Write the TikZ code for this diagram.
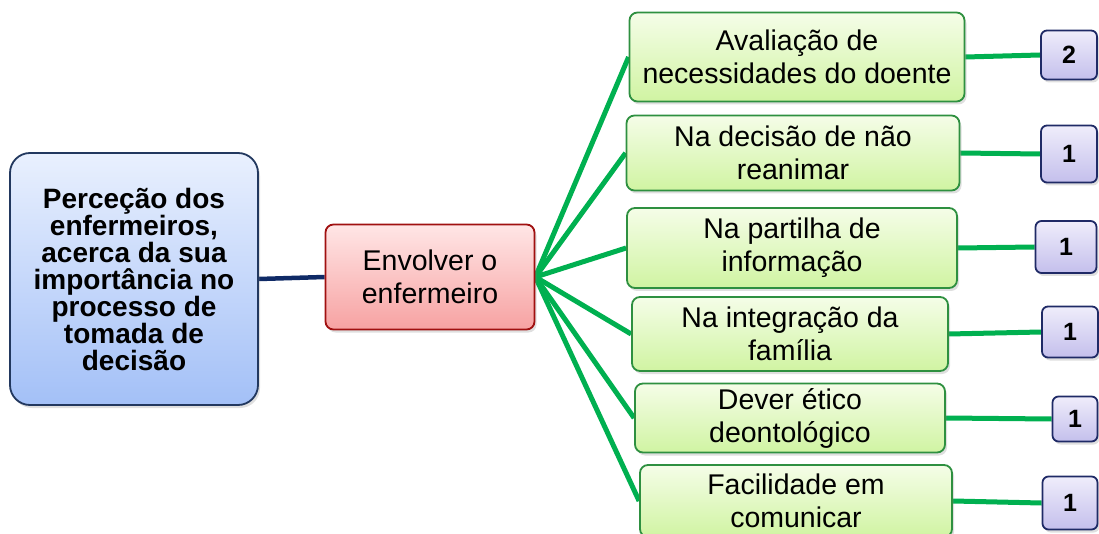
\documentclass[tikz,border=0pt]{standalone}
\usepackage{fontspec}
\setmainfont{Liberation Sans}
\usetikzlibrary{shadows,backgrounds}

\definecolor{linkgreen}{HTML}{00B050}
\definecolor{navyline}{HTML}{0F2A66}
\definecolor{roottop}{HTML}{E9F0FE}
\definecolor{rootbot}{HTML}{A3C0F7}
\definecolor{rootedge}{HTML}{22385F}
\definecolor{midtop}{HTML}{FFE6E6}
\definecolor{midbot}{HTML}{F7A2A2}
\definecolor{midedge}{HTML}{A01010}
\definecolor{itemtop}{HTML}{F5FDE8}
\definecolor{itembot}{HTML}{D0F4A2}
\definecolor{itemedge}{HTML}{2E9040}
\definecolor{counttop}{HTML}{EFEDFB}
\definecolor{countbot}{HTML}{C4BFEC}
\definecolor{countedge}{HTML}{1F2A66}

\begin{document}
\begin{tikzpicture}[x=1pt, y=-1pt,
    box/.style = {draw, rounded corners=8pt, line width=1.8pt, align=center, inner sep=0pt,
                  drop shadow={shadow xshift=2pt, shadow yshift=-3pt, opacity=0.25}},
    rootbox/.style = {box, rounded corners=20pt, draw=rootedge, top color=roottop, bottom color=rootbot,
                      font=\fontsize{28}{27}\selectfont\bfseries},
    midbox/.style = {box, draw=midedge, top color=midtop, bottom color=midbot,
                     font=\fontsize{28.5}{33}\selectfont},
    itembox/.style = {box, draw=itemedge, top color=itemtop, bottom color=itembot,
                      font=\fontsize{28.5}{33}\selectfont},
    countbox/.style = {box, rounded corners=6pt, draw=countedge, top color=counttop, bottom color=countbot,
                       font=\fontsize{25}{26}\selectfont\bfseries},
    link/.style = {draw=linkgreen, line width=5pt},
    rootlink/.style = {draw=navyline, line width=4.5pt}]

    \clip (0,0) rectangle (1099,534);

    % central idea and category
    \node[rootbox, minimum width=248pt, minimum height=252pt] (root) at (134,279)
        {Perceção dos\\enfermeiros,\\acerca da sua\\importância no\\processo de\\tomada de\\decisão};
    \node[midbox, minimum width=209pt, minimum height=105pt] (env) at (430,277) {Envolver o\\enfermeiro};

    % sub-categories
    \node[itembox, minimum width=335pt, minimum height=89pt] (g1) at (797,57) {Avaliação de\\necessidades do doente};
    \node[itembox, minimum width=333pt, minimum height=75pt] (g2) at (793,153) {Na decisão de não\\reanimar};
    \node[itembox, minimum width=330pt, minimum height=80pt] (g3) at (792,248) {Na partilha de\\informação};
    \node[itembox, minimum width=316pt, minimum height=74pt] (g4) at (790,334) {Na integração da\\família};
    \node[itembox, minimum width=310pt, minimum height=69pt] (g5) at (790,418) {Dever ético\\deontológico};
    \node[itembox, minimum width=312pt, minimum height=72pt] (g6) at (796,501) {Facilidade em\\comunicar};

    % counts
    \node[countbox, minimum width=56pt, minimum height=49pt] (n1) at (1069,55) {2};
    \node[countbox, minimum width=56pt, minimum height=57pt] (n2) at (1069,154) {1};
    \node[countbox, minimum width=61pt, minimum height=52pt] (n3) at (1066,247) {1};
    \node[countbox, minimum width=56pt, minimum height=51pt] (n4) at (1070,332) {1};
    \node[countbox, minimum width=45pt, minimum height=45pt] (n5) at (1075,419) {1};
    \node[countbox, minimum width=55pt, minimum height=53pt] (n6) at (1070,503) {1};

    \begin{pgfonlayer}{background}
        \draw[rootlink] (root.east) -- (env.west);
        \foreach \i in {1,...,6} {
            \draw[link] (env.east) -- (g\i.west);
            \draw[link] (g\i.east) -- (n\i.west);
        }
    \end{pgfonlayer}
\end{tikzpicture}
\end{document}
